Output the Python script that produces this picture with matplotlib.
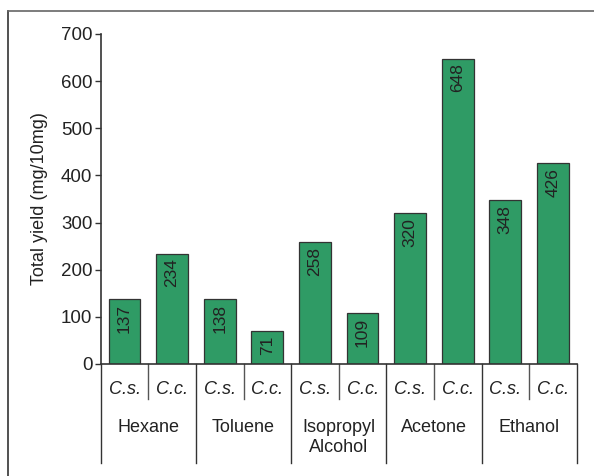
import matplotlib
matplotlib.use("Agg")

import numpy as np
import matplotlib.pyplot as plt
from matplotlib.lines import Line2D

plt.rcParams['font.family'] = ['Liberation Sans', 'DejaVu Sans']

# data
solvents = ["Hexane", "Toluene", "Isopropyl\nAlcohol", "Acetone", "Ethanol"]
species = ["C.s.", "C.c."]
cs_yield = [137, 138, 258, 320, 348]
cc_yield = [234, 71, 109, 648, 426]
yticks = [0, 100, 200, 300, 400, 500, 600, 700]

values = []
for a, b in zip(cs_yield, cc_yield):
    values += [a, b]
x = np.arange(len(values))

green = "#2f9b65"
edge = "#333333"

fig = plt.figure(figsize=(5.94, 4.76), dpi=100)
ax = fig.add_axes([100.7/594, 112/476, 476/594, 330/476])

bars = ax.bar(x, values, width=0.667, color=green, edgecolor=edge, linewidth=0.9)
for xi, v in zip(x, values):
    ax.annotate(str(v), xy=(xi, v), xytext=(0, -3.5), textcoords="offset points",
                rotation=90, ha="center", va="top", fontsize=12.5, color="#222222")

ax.set_xlim(-0.5, len(values) - 0.5)
ax.set_ylim(0, 700)
ax.set_yticks(yticks)
ax.tick_params(axis="y", direction="out", length=4, width=1, colors="#333333",
               labelsize=13.5, labelcolor="#222222", pad=2)
ax.set_xticks([])
for s in ["top", "right"]:
    ax.spines[s].set_visible(False)
for s in ["left", "bottom"]:
    ax.spines[s].set_color("#333333")
    ax.spines[s].set_linewidth(1.2)

ax.set_ylabel("Total yield (mg/10mg)", fontsize=13, color="#222222")
ax.yaxis.set_label_coords(-0.110, 0.5)

# category labels below the axis
trans = ax.get_xaxis_transform()
for xi in x:
    ax.text(xi, -0.076, species[xi % 2], transform=trans, ha="center", va="center",
            fontsize=13, style="italic", color="#222222")
for i, name in enumerate(solvents):
    ax.text(2*i + 0.5, -0.167, name, transform=trans, ha="center", va="top",
            fontsize=13, color="#222222", linespacing=1.25)
    # separator inside group
    ax.plot([2*i + 0.5, 2*i + 0.5], [0, -0.106], transform=trans, color="#555555",
            lw=1.0, clip_on=False)
for i in range(len(solvents) + 1):
    ax.plot([2*i - 0.5, 2*i - 0.5], [0, -0.299], transform=trans, color="#333333",
            lw=1.0, clip_on=False)

# frame around figure
fig.add_artist(Line2D([8/594, 8/594], [0, 1 - 11/476], transform=fig.transFigure,
                      color="#333333", lw=1.2))
fig.add_artist(Line2D([8/594, 1], [1 - 11/476, 1 - 11/476], transform=fig.transFigure,
                      color="#666666", lw=1.2))

plt.savefig("out.png", dpi=100)
